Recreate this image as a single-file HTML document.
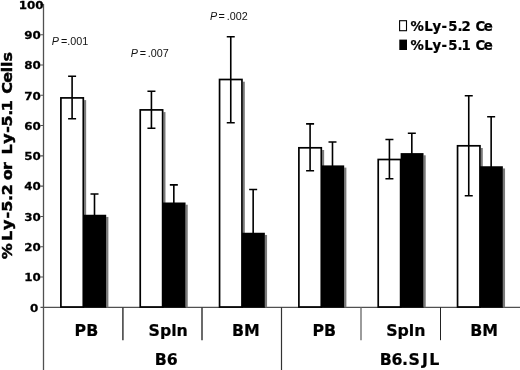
<!DOCTYPE html>
<html lang="en"><head><meta charset="utf-8"><title>Ly-5.2 / Ly-5.1 chart</title>
<style>html,body{margin:0;padding:0;background:#fff}body{width:520px;height:370px;overflow:hidden}svg{display:block}.b{font-family:"DejaVu Sans","Liberation Sans",sans-serif;font-weight:bold;fill:#000}.p{font-family:"Liberation Sans",sans-serif;font-size:10px;fill:#111}</style></head><body>
<svg width="520" height="370" viewBox="0 0 520 370">
<rect width="520" height="370" fill="#fff"/>
<path d="M43.5 4.0V370" stroke="#505050" stroke-width="1.3" fill="none"/>
<path d="M40.5 307.3H520" stroke="#505050" stroke-width="1.2" fill="none"/>
<path d="M40.50 277.01H43.50M40.50 246.72H43.50M40.50 216.43H43.50M40.50 186.14H43.50M40.50 155.85H43.50M40.50 125.56H43.50M40.50 95.27H43.50M40.50 64.98H43.50M40.50 34.69H43.50M40.50 4.40H43.50" stroke="#505050" stroke-width="1.1" fill="none"/>
<path d="M122.9 307.3V340.2" stroke="#3a3a3a" stroke-width="1.5" fill="none"/>
<path d="M202.0 307.3V340.2" stroke="#3a3a3a" stroke-width="1.5" fill="none"/>
<path d="M281.5 307.3V370" stroke="#333" stroke-width="1.2" fill="none"/>
<path d="M361.0 307.3V340.2" stroke="#666" stroke-width="1.3" fill="none"/>
<path d="M440.5 307.3V340.2" stroke="#222" stroke-width="1.0" fill="none"/>
<rect x="84.15" y="100.10" width="2" height="207.20" fill="#7a7a7a"/>
<rect x="106.20" y="216.95" width="2.2" height="90.35" fill="#7a7a7a"/>
<rect x="83.30" y="214.75" width="22.90" height="92.95" fill="#000"/>
<rect x="60.90" y="97.90" width="22.40" height="209.10" fill="#fff" stroke="#000" stroke-width="1.7"/>
<path d="M72.10 76.30V118.70M68.10 76.30h8.0M68.10 118.70h8.0" stroke="#000" stroke-width="1.6" fill="none"/>
<path d="M94.50 194.00V215.75M90.50 194.00h8.0" stroke="#000" stroke-width="1.6" fill="none"/>
<rect x="163.48" y="112.10" width="2" height="195.20" fill="#7a7a7a"/>
<rect x="185.53" y="204.70" width="2.2" height="102.60" fill="#7a7a7a"/>
<rect x="162.63" y="202.50" width="22.90" height="105.20" fill="#000"/>
<rect x="140.23" y="109.90" width="22.40" height="197.10" fill="#fff" stroke="#000" stroke-width="1.7"/>
<path d="M151.43 91.30V128.30M147.43 91.30h8.0M147.43 128.30h8.0" stroke="#000" stroke-width="1.6" fill="none"/>
<path d="M173.83 184.90V203.50M169.83 184.90h8.0" stroke="#000" stroke-width="1.6" fill="none"/>
<rect x="242.81" y="81.70" width="2" height="225.60" fill="#7a7a7a"/>
<rect x="264.86" y="234.95" width="2.2" height="72.35" fill="#7a7a7a"/>
<rect x="241.96" y="232.75" width="22.90" height="74.95" fill="#000"/>
<rect x="219.56" y="79.50" width="22.40" height="227.50" fill="#fff" stroke="#000" stroke-width="1.7"/>
<path d="M230.76 36.70V122.70M226.76 36.70h8.0M226.76 122.70h8.0" stroke="#000" stroke-width="1.6" fill="none"/>
<path d="M253.16 189.50V233.75M249.16 189.50h8.0" stroke="#000" stroke-width="1.6" fill="none"/>
<rect x="322.14" y="150.00" width="2" height="157.30" fill="#7a7a7a"/>
<rect x="344.19" y="167.60" width="2.2" height="139.70" fill="#7a7a7a"/>
<rect x="321.29" y="165.40" width="22.90" height="142.30" fill="#000"/>
<rect x="298.89" y="147.80" width="22.40" height="159.20" fill="#fff" stroke="#000" stroke-width="1.7"/>
<path d="M310.09 123.90V170.75M306.09 123.90h8.0M306.09 170.75h8.0" stroke="#000" stroke-width="1.6" fill="none"/>
<path d="M332.49 142.00V166.40M328.49 142.00h8.0" stroke="#000" stroke-width="1.6" fill="none"/>
<rect x="401.47" y="161.70" width="2" height="145.60" fill="#7a7a7a"/>
<rect x="423.52" y="155.30" width="2.2" height="152.00" fill="#7a7a7a"/>
<rect x="400.62" y="153.10" width="22.90" height="154.60" fill="#000"/>
<rect x="378.22" y="159.50" width="22.40" height="147.50" fill="#fff" stroke="#000" stroke-width="1.7"/>
<path d="M389.42 139.50V178.70M385.42 139.50h8.0M385.42 178.70h8.0" stroke="#000" stroke-width="1.6" fill="none"/>
<path d="M411.82 133.30V154.10M407.82 133.30h8.0" stroke="#000" stroke-width="1.6" fill="none"/>
<rect x="480.80" y="148.00" width="2" height="159.30" fill="#7a7a7a"/>
<rect x="502.85" y="168.45" width="2.2" height="138.85" fill="#7a7a7a"/>
<rect x="479.95" y="166.25" width="22.90" height="141.45" fill="#000"/>
<rect x="457.55" y="145.80" width="22.40" height="161.20" fill="#fff" stroke="#000" stroke-width="1.7"/>
<path d="M468.75 95.75V195.80M464.75 95.75h8.0M464.75 195.80h8.0" stroke="#000" stroke-width="1.6" fill="none"/>
<path d="M491.15 116.70V167.25M487.15 116.70h8.0" stroke="#000" stroke-width="1.6" fill="none"/>
<text class="b" transform="translate(30.0 311.60) scale(1.085 1.03)" font-size="11" stroke="#000" stroke-width="0.25">0</text>
<text class="b" transform="translate(24.3 281.31) scale(1.085 1.03)" font-size="11" stroke="#000" stroke-width="0.25">10</text>
<text class="b" transform="translate(24.3 251.02) scale(1.085 1.03)" font-size="11" stroke="#000" stroke-width="0.25">20</text>
<text class="b" transform="translate(24.3 220.73) scale(1.085 1.03)" font-size="11" stroke="#000" stroke-width="0.25">30</text>
<text class="b" transform="translate(24.3 190.44) scale(1.085 1.03)" font-size="11" stroke="#000" stroke-width="0.25">40</text>
<text class="b" transform="translate(24.3 160.15) scale(1.085 1.03)" font-size="11" stroke="#000" stroke-width="0.25">50</text>
<text class="b" transform="translate(24.3 129.86) scale(1.085 1.03)" font-size="11" stroke="#000" stroke-width="0.25">60</text>
<text class="b" transform="translate(24.3 99.57) scale(1.085 1.03)" font-size="11" stroke="#000" stroke-width="0.25">70</text>
<text class="b" transform="translate(24.3 69.28) scale(1.085 1.03)" font-size="11" stroke="#000" stroke-width="0.25">80</text>
<text class="b" transform="translate(24.3 38.99) scale(1.085 1.03)" font-size="11" stroke="#000" stroke-width="0.25">90</text>
<text class="b" transform="translate(18.7 8.70) scale(1.085 1.03)" font-size="11" stroke="#000" stroke-width="0.25">100</text>
<text class="b" transform="translate(11.9 0) rotate(-90) scale(1.12 1)" font-size="14.2" stroke="#000" stroke-width="0.45" x="-231.40 -215.16 -205.35 -195.18 -188.96 -179.44 -174.39 -166.39 -160.99 -151.89 -143.89 -138.06 -128.25 -118.48 -112.94 -103.41 -99.32 -91.32 -83.64 -73.89 -64.58 -59.85 -54.93" y="0">%Ly-5.2 or Ly-5.1 Cells</text>
<text class="b" stroke="#000" stroke-width="0.2" font-size="15.8" x="74.6" y="335.6">PB</text>
<text class="b" stroke="#000" stroke-width="0.2" font-size="15.8" x="148.5" y="335.6">Spln</text>
<text class="b" stroke="#000" stroke-width="0.2" font-size="15.8" x="231.9" y="335.6">BM</text>
<text class="b" stroke="#000" stroke-width="0.2" font-size="15.8" x="312.5" y="335.6">PB</text>
<text class="b" stroke="#000" stroke-width="0.2" font-size="15.8" x="386.2" y="335.6">Spln</text>
<text class="b" stroke="#000" stroke-width="0.2" font-size="15.8" x="470.2" y="335.6">BM</text>
<text class="b" stroke="#000" stroke-width="0.2" font-size="15.8" x="154.8" y="365.2">B6</text>
<text class="b" stroke="#000" stroke-width="0.2" font-size="15.8" x="379.7 391.5 402.0 408.6 422.0 429.2" y="365.1">B6.SJL</text>
<rect x="399.6" y="20.7" width="6.9" height="10.0" fill="#fff" stroke="#000" stroke-width="1.1"/>
<rect x="399.3" y="39.6" width="7.7" height="10.4" fill="#000"/>
<text class="b" stroke="#000" stroke-width="0.2" font-size="13.3" x="410.4 424.3 432.4 441.5 448.2 457.5 461.4 470 475.5 483.8" y="30.6">%Ly-5.2 Ce</text>
<text class="b" stroke="#000" stroke-width="0.2" font-size="13.3" x="410.4 424.3 432.4 441.5 448.2 457.5 461.4 470 475.5 483.8" y="49.5">%Ly-5.1 Ce</text>
<text class="p" transform="translate(51.8 45.3) scale(1.08 1)" x="0 8.43 14.35"><tspan font-style="italic">P</tspan>=.001</text>
<text class="p" transform="translate(130.8 57.0) scale(1.08 1)" x="0 8.24 15.74"><tspan font-style="italic">P</tspan>=.007</text>
<text class="p" transform="translate(210.1 20.3) scale(1.08 1)" x="0 7.69 15.46"><tspan font-style="italic">P</tspan>=.002</text>
</svg></body></html>
